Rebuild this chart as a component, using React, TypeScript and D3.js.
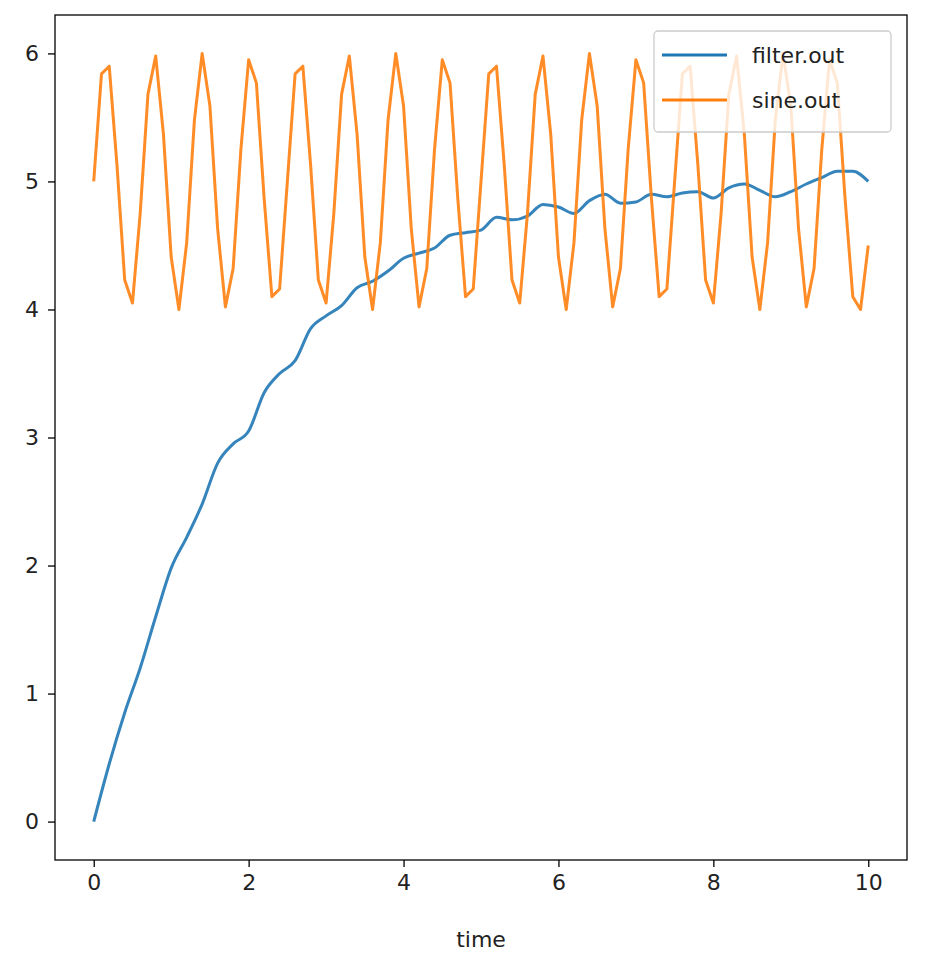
import React, { useEffect, useRef } from "react";
import * as d3 from "d3";

// sine.out sampled every 0.1 s (t = 0 .. 10)
const sineTimes: number[] = d3.range(0, 101).map((i) => i / 10);
const sinePattern = [
  5.0, 5.84, 5.9, 5.13, 4.23, 4.05, 4.75, 5.68, 5.98, 5.37,
  4.41, 4.0, 4.52, 5.48, 6.0, 5.59, 4.63, 4.02, 4.32, 5.25,
  5.95, 5.77, 4.87, 4.1, 4.16,
];
const sineValues: number[] = [
  ...sinePattern, ...sinePattern, ...sinePattern, ...sinePattern.slice(0, 24), 4.0, 4.5,
];

// filter.out sampled every 0.2 s
const filterTimes: number[] = d3.range(0, 51).map((i) => i / 5);
const filterValues: number[] = [
  0.0, 0.45, 0.85, 1.2, 1.6, 1.98, 2.22, 2.48, 2.8, 2.95,
  3.05, 3.35, 3.5, 3.6, 3.85, 3.95, 4.03, 4.17, 4.22, 4.3,
  4.4, 4.44, 4.48, 4.58, 4.6, 4.62, 4.72, 4.7, 4.73, 4.82,
  4.8, 4.75, 4.85, 4.9, 4.83, 4.84, 4.9, 4.88, 4.91, 4.92,
  4.87, 4.95, 4.98, 4.93, 4.88, 4.92, 4.98, 5.03, 5.08, 5.08,
  5.0,
];

const xTicks = [0, 2, 4, 6, 8, 10];
const yTicks = [0, 1, 2, 3, 4, 5, 6];
const seriesNames = ["filter.out", "sine.out"];
const colors = ["#1f77b4", "#ff7f0e"];

export default function App() {
  const svgRef = useRef<SVGSVGElement>(null);

  useEffect(() => {
    if (!svgRef.current) return;
    const svg = d3.select(svgRef.current);
    svg.selectAll("*").remove();

    const left = 55, right = 907, top = 15, bottom = 860;
    const x = d3.scaleLinear().domain([-0.5, 10.5]).range([left, right]);
    const y = d3.scaleLinear().domain([-0.3, 6.3]).range([bottom, top]);
    const font = "DejaVu Sans, sans-serif";

    const smooth = d3.line<[number, number]>()
      .x((d) => x(d[0])).y((d) => y(d[1]))
      .curve(d3.curveMonotoneX);
    const straight = d3.line<[number, number]>()
      .x((d) => x(d[0])).y((d) => y(d[1]));

    const series: [number, number][][] = [
      filterTimes.map((t, i) => [t, filterValues[i]]),
      sineTimes.map((t, i) => [t, sineValues[i]]),
    ];
    series.forEach((s, i) => {
      svg.append("path").datum(s)
        .attr("fill", "none").attr("stroke", colors[i])
        .attr("stroke-width", 3).attr("stroke-linejoin", "round")
        .attr("stroke-opacity", 0.9)
        .attr("d", i === 0 ? smooth : straight);
    });

    // axes
    const xAxis = svg.append("g").attr("transform", `translate(0,${bottom})`)
      .call(d3.axisBottom(x).tickValues(xTicks).tickFormat(d3.format("d")).tickSize(7).tickPadding(7));
    const yAxis = svg.append("g").attr("transform", `translate(${left},0)`)
      .call(d3.axisLeft(y).tickValues(yTicks).tickFormat(d3.format("d")).tickSize(7).tickPadding(9));
    [xAxis, yAxis].forEach((a) => {
      a.select(".domain").remove();
      a.selectAll(".tick line").attr("stroke", "#000").attr("stroke-width", 1.3);
      a.selectAll(".tick text").attr("fill", "#222").style("font-family", font).style("font-size", "22px");
    });

    svg.append("rect")
      .attr("x", left).attr("y", top)
      .attr("width", right - left).attr("height", bottom - top)
      .attr("fill", "none").attr("stroke", "#000").attr("stroke-width", 1.3);

    svg.append("text")
      .attr("x", (left + right) / 2).attr("y", 947)
      .attr("text-anchor", "middle").attr("fill", "#222")
      .style("font-family", font).style("font-size", "22px")
      .text("time");

    // legend
    const lg = svg.append("g");
    lg.append("rect")
      .attr("x", 654).attr("y", 31).attr("width", 237).attr("height", 101).attr("rx", 4)
      .attr("fill", "white").attr("fill-opacity", 0.8)
      .attr("stroke", "#ccc").attr("stroke-width", 1.3);
    seriesNames.forEach((name, i) => {
      const yy = 55 + i * 45;
      lg.append("line")
        .attr("x1", 662).attr("x2", 727).attr("y1", yy).attr("y2", yy)
        .attr("stroke", colors[i]).attr("stroke-width", 3);
      lg.append("text")
        .attr("x", 752).attr("y", yy + 8).attr("fill", "#222")
        .style("font-family", font).style("font-size", "22px")
        .text(name);
    });
  }, []);

  return (
    <svg
      ref={svgRef}
      width={938}
      height={966}
      style={{ position: "absolute", left: 0, top: 0, background: "white" }}
    />
  );
}
